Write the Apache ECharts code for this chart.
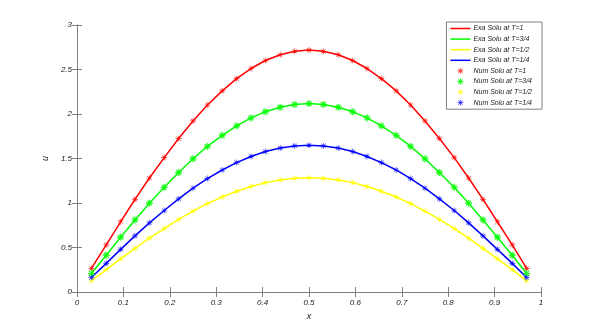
<!DOCTYPE html>
<html>
<head>
<meta charset="utf-8">
<script src="https://cdn.jsdelivr.net/npm/echarts@6/dist/echarts.min.js"></script>
<style>
  html, body { margin: 0; padding: 0; background: #fff; }
  #chart { width: 599px; height: 327px; }
</style>
</head>
<body>
<div id="chart"></div>
<script>
// grid points (x) and solution values
const xs = [0.031, 0.063, 0.094, 0.125, 0.156, 0.188, 0.219, 0.25, 0.281, 0.313, 0.344, 0.375, 0.406, 0.438, 0.469, 0.5,
  0.531, 0.563, 0.594, 0.625, 0.656, 0.688, 0.719, 0.75, 0.781, 0.813, 0.844, 0.875, 0.906, 0.938, 0.969];

const uT1 = [0.266, 0.530, 0.789, 1.040, 1.281, 1.510, 1.724, 1.922, 2.101, 2.260, 2.397, 2.511, 2.601, 2.666, 2.705, 2.718,
  2.705, 2.666, 2.601, 2.511, 2.397, 2.260, 2.101, 1.922, 1.724, 1.510, 1.281, 1.040, 0.789, 0.530, 0.266];
const uT34 = [0.207, 0.413, 0.615, 0.810, 0.998, 1.176, 1.343, 1.497, 1.636, 1.760, 1.867, 1.956, 2.026, 2.076, 2.107, 2.117,
  2.107, 2.076, 2.026, 1.956, 1.867, 1.760, 1.636, 1.497, 1.343, 1.176, 0.998, 0.810, 0.615, 0.413, 0.207];
const uT12 = [0.126, 0.251, 0.373, 0.491, 0.605, 0.713, 0.815, 0.908, 0.993, 1.068, 1.132, 1.186, 1.229, 1.259, 1.278, 1.284,
  1.278, 1.259, 1.229, 1.186, 1.132, 1.068, 0.993, 0.908, 0.815, 0.713, 0.605, 0.491, 0.373, 0.251, 0.126];
const uT14 = [0.162, 0.322, 0.479, 0.631, 0.777, 0.916, 1.046, 1.166, 1.274, 1.371, 1.454, 1.523, 1.578, 1.617, 1.641, 1.649,
  1.641, 1.617, 1.578, 1.523, 1.454, 1.371, 1.274, 1.166, 1.046, 0.916, 0.777, 0.631, 0.479, 0.322, 0.162];

const xTicks = [0, 0.1, 0.2, 0.3, 0.4, 0.5, 0.6, 0.7, 0.8, 0.9, 1];
const yTicks = [0, 0.5, 1, 1.5, 2, 2.5, 3];

const curves = [
  { t: '1', color: '#ff0000', values: uT1 },
  { t: '3/4', color: '#00ff00', values: uT34 },
  { t: '1/2', color: '#ffff00', values: uT12 },
  { t: '1/4', color: '#0000ff', values: uT14 },
];

// matlab style '*' marker
const star = 'path://M-5,-0.55L5,-0.55L5,0.55L-5,0.55Z' +
  'M-0.55,-5L0.55,-5L0.55,5L-0.55,5Z' +
  'M-3.1,-3.9L3.9,3.1L3.1,3.9L-3.9,-3.1Z' +
  'M3.9,-3.1L-3.1,3.9L-3.9,3.1L3.1,-3.9Z';
const starBold = 'path://M-5,-1L5,-1L5,1L-5,1Z' +
  'M-1,-5L1,-5L1,5L-1,5Z' +
  'M-2.8,-4.2L4.2,2.8L2.8,4.2L-4.2,-2.8Z' +
  'M4.2,-2.8L-2.8,4.2L-4.2,2.8L2.8,-4.2Z';
const lineIcon = 'path://M0,0L40,0L40,3L0,3Z';

const pairs = vals => xs.map((x, i) => [x, vals[i]]);

const series = [];
const legendData = [];
curves.forEach(c => {
  const name = 'Exa Solu at T=' + c.t;
  series.push({
    name: name,
    type: 'line',
    data: pairs(c.values),
    symbol: 'none',
    lineStyle: { color: c.color, width: 1.5 },
    itemStyle: { color: c.color },
    z: 2,
  });
  legendData.push({ name: name, icon: lineIcon });
});
curves.forEach(c => {
  const name = 'Num Solu at T=' + c.t;
  series.push({
    name: name,
    type: 'scatter',
    data: pairs(c.values),
    symbol: c.t === '3/4' ? starBold : star,
    symbolSize: c.t === '3/4' ? 7 : 6,
    itemStyle: { color: c.color, opacity: 0.8 },
    z: 3,
  });
  legendData.push({ name: name });
});

const font = { fontFamily: 'Liberation Sans', fontStyle: 'italic', color: '#1a1a1a' };
const axisGray = '#808080';

const chart = echarts.init(document.getElementById('chart'));
chart.setOption({
  animation: false,
  backgroundColor: '#fff',
  grid: { left: 77, right: 58, top: 25, bottom: 35 },
  legend: {
    orient: 'vertical',
    right: 57,
    top: 22,
    backgroundColor: '#fff',
    borderColor: '#808080',
    borderWidth: 1,
    borderRadius: 0,
    padding: [3, 10, 3, 4],
    itemWidth: 20,
    itemHeight: 6,
    itemGap: 3.6,
    textStyle: Object.assign({ fontSize: 7, padding: [0, 0, 0, -2] }, font),
    data: legendData,
  },
  xAxis: [
    {
      type: 'value', min: 0, max: 1, interval: 0.1,
      name: 'x', nameLocation: 'middle', nameGap: 15,
      nameTextStyle: Object.assign({ fontSize: 9 }, font),
      axisLine: { lineStyle: { color: axisGray } },
      axisTick: { inside: true, length: 5, lineStyle: { color: axisGray } },
      axisLabel: Object.assign({ fontSize: 8, margin: 7, formatter: v => xTicks.includes(+v.toFixed(1)) ? String(+v.toFixed(1)) : '' }, font),
      splitLine: { show: false },
    },
    {
      type: 'value', min: 0, max: 1, interval: 0.1, position: 'top',
      axisLine: { lineStyle: { color: axisGray } },
      axisTick: { inside: true, length: 5, lineStyle: { color: axisGray } },
      axisLabel: { show: false },
      splitLine: { show: false },
    },
  ],
  yAxis: [
    {
      type: 'value', min: 0, max: 3, interval: 0.5,
      name: 'u', nameLocation: 'middle', nameGap: 20, nameRotate: 90,
      nameTextStyle: Object.assign({ fontSize: 9 }, font),
      axisLine: { lineStyle: { color: axisGray } },
      axisTick: { inside: true, length: 5, lineStyle: { color: axisGray } },
      axisLabel: Object.assign({ fontSize: 8, margin: 5, formatter: v => yTicks.includes(v) ? String(v) : '' }, font),
      splitLine: { show: false },
    },
    {
      type: 'value', min: 0, max: 3, interval: 0.5, position: 'right',
      axisLine: { lineStyle: { color: axisGray } },
      axisTick: { inside: true, length: 5, lineStyle: { color: axisGray } },
      axisLabel: { show: false },
      splitLine: { show: false },
    },
  ],
  series: series,
});
</script>
</body>
</html>
